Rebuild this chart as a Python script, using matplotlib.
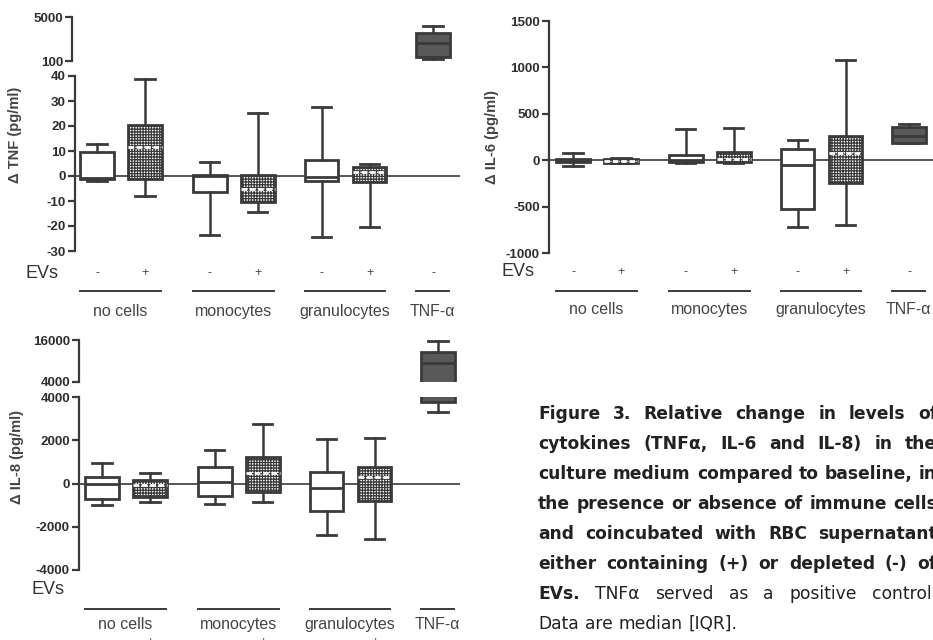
import matplotlib
matplotlib.use("Agg")
import matplotlib.pyplot as plt
from matplotlib import transforms

# ---- data ----
groups = ["no cells", "monocytes", "granulocytes", "TNF-\u03b1"]
group_members = [[0, 1], [2, 3], [4, 5], [6]]
evs = ["-", "+", "-", "+", "-", "+", "-"]

# TNF (pg/ml): whisker low, Q1, median, Q3, whisker high
tnf_lo = [-2, -8, -23.5, -14.5, -24.5, -20.5, 320]
tnf_q1 = [-1, -1.2, -6.5, -10.5, -1.8, -2.5, 576]
tnf_med = [-0.6, 11.5, 0, -5.2, -0.5, 1.8, 2060]
tnf_q3 = [9.6, 20.5, 0.3, 0.3, 6.3, 3.5, 3270]
tnf_hi = [13, 39, 5.5, 25.3, 27.5, 4.8, 3970]

# IL-6 (pg/ml)
il6_lo = [-60, -30, -25, -25, -725, -700, 180]
il6_q1 = [-20, -25, -20, -20, -530, -245, 185]
il6_med = [-5, -10, 5, 10, -55, 75, 260]
il6_q3 = [10, 15, 60, 85, 125, 260, 355]
il6_hi = [75, 20, 340, 350, 215, 1080, 385]

# IL-8 (pg/ml)
il8_lo = [-1000, -870, -960, -860, -2370, -2550, 3300]
il8_q1 = [-700, -640, -600, -400, -1250, -800, 3750]
il8_med = [0, -50, 80, 500, -200, 300, 9400]
il8_q3 = [280, 140, 740, 1210, 540, 740, 12700]
il8_hi = [950, 480, 1570, 2740, 2060, 2100, 15800]

caption = [
    [("Figure 3. Relative change in levels of", "bold")],
    [("cytokines (TNF\u03b1, IL-6 and IL-8) in the", "bold")],
    [("culture medium compared to baseline, in", "bold")],
    [("the presence or absence of immune cells", "bold")],
    [("and coincubated with RBC supernatant", "bold")],
    [("either containing (+) or depleted (-) of", "bold")],
    [("EVs.", "bold"), ("TNF\u03b1 served as a positive control.", "normal")],
    [("Data are median [IQR].", "normal")],
]

# ---- layout ----
W, H = 933, 640
positions = [0, 1, 2.35, 3.35, 4.68, 5.68, 7.0]
UNIT = 48.0  # px per position unit
DARK = "#3a3a3a"

plt.rcParams["font.family"] = ["Liberation Sans", "DejaVu Sans"]
plt.rcParams["axes.unicode_minus"] = False
plt.rcParams["hatch.color"] = DARK
plt.rcParams["hatch.linewidth"] = 0.9

fig = plt.figure(figsize=(W / 100, H / 100), dpi=100)


def px_axes(left, top, right, bottom):
    return fig.add_axes([left / W, 1 - bottom / H, (right - left) / W, (bottom - top) / H])


def style_axis(ax, ylim, ticks, x0, left, right):
    ax.set_xlim((left - x0) / UNIT, (right - x0) / UNIT)
    ax.set_ylim(ylim)
    for s in ("top", "right", "bottom"):
        ax.spines[s].set_visible(False)
    ax.spines["left"].set_linewidth(1.6)
    ax.spines["left"].set_color(DARK)
    ax.set_xticks([])
    ax.set_yticks(ticks)
    ax.tick_params(axis="y", length=5, width=1.6, color=DARK, pad=1.5,
                   labelsize=9.6, labelcolor="#2e2e2e")
    for lab in ax.get_yticklabels():
        lab.set_fontweight("bold")
    ax.patch.set_visible(False)


def draw_boxes(ax, lo, q1, med, q3, hi):
    stats = [dict(whislo=a, q1=b, med=c, q3=d, whishi=e, fliers=[])
             for a, b, c, d, e in zip(lo, q1, med, q3, hi)]
    art = ax.bxp(stats, positions=positions, widths=0.7, capwidths=0.4,
                 patch_artist=True, showfliers=False, manage_ticks=False,
                 boxprops=dict(linewidth=2.0, edgecolor=DARK),
                 whiskerprops=dict(linewidth=1.8, color=DARK),
                 capprops=dict(linewidth=2.0, color=DARK),
                 medianprops=dict(linewidth=2.0, color=DARK))
    for i, (box, m) in enumerate(zip(art["boxes"], art["medians"])):
        if i == 6:
            box.set_facecolor("#595959")
        elif evs[i] == "+":
            box.set_facecolor("white")
            box.set_hatch("++++++")
            m.set_color("white")
            m.set_linestyle((0, (2, 1)))
        else:
            box.set_facecolor("white")


def panel_text(ax, ylabel, ylab_xy, evs_xy, sign_y, line_y, label_y):
    tr = transforms.blended_transform_factory(ax.transData, fig.transFigure)
    fig.text(ylab_xy[0] / W, 1 - ylab_xy[1] / H, ylabel, rotation=90, ha="center",
             va="center", fontsize=10.5, fontweight="bold", color="#444")
    fig.text(evs_xy[0] / W, 1 - evs_xy[1] / H, "EVs", ha="center", va="center",
             fontsize=13, color="#333")
    for p, s in zip(positions, evs):
        ax.text(p, 1 - sign_y / H, s, transform=tr, ha="center", va="center",
                fontsize=9, color="#444")
    for g, members in zip(groups, group_members):
        a = positions[members[0]] - 0.35
        b = positions[members[-1]] + 0.33
        ax.plot([a, b], [1 - line_y / H] * 2, transform=tr, color=DARK,
                lw=1.4, clip_on=False)
        ax.text((a + b) / 2, 1 - label_y / H, g, transform=tr, ha="center",
                va="baseline", fontsize=11.5, color="#444")


# ---- TNF panel (broken axis) ----
ax_t = px_axes(72, 17, 460, 61)
style_axis(ax_t, (100, 5000), [100, 5000], 97, 72, 460)
draw_boxes(ax_t, tnf_lo, tnf_q1, tnf_med, tnf_q3, tnf_hi)
ax_b = px_axes(75, 76, 460, 251)
style_axis(ax_b, (-30, 40), range(-30, 41, 10), 97, 75, 460)
ax_b.axhline(0, color=DARK, lw=1.2, zorder=0.5)
draw_boxes(ax_b, tnf_lo, tnf_q1, tnf_med, tnf_q3, tnf_hi)
panel_text(ax_b, "\u0394 TNF (pg/ml)", (15, 135), (42, 273), 273, 291, 316)

# ---- IL-6 panel ----
ax6 = px_axes(549, 21, 933, 253)
style_axis(ax6, (-1000, 1500), range(-1000, 1501, 500), 573, 549, 933)
ax6.axhline(0, color=DARK, lw=1.2, zorder=0.5)
draw_boxes(ax6, il6_lo, il6_q1, il6_med, il6_q3, il6_hi)
panel_text(ax6, "\u0394 IL-6 (pg/ml)", (492, 137), (518, 272), 272, 291, 314)

# ---- IL-8 panel (broken axis) ----
ax8t = px_axes(79, 340, 460, 382)
style_axis(ax8t, (4000, 16000), [4000, 16000], 102, 79, 460)
draw_boxes(ax8t, il8_lo, il8_q1, il8_med, il8_q3, il8_hi)
ax8 = px_axes(79, 397, 460, 570)
style_axis(ax8, (-4000, 4000), range(-4000, 4001, 2000), 102, 79, 460)
ax8.axhline(0, color=DARK, lw=1.2, zorder=0.5)
draw_boxes(ax8, il8_lo, il8_q1, il8_med, il8_q3, il8_hi)
panel_text(ax8, "\u0394 IL-8 (pg/ml)", (17, 457), (48, 589), 642, 609, 629)

# ---- caption, justified ----
renderer = fig.canvas.get_renderer()
CAP_LEFT, CAP_RIGHT = 538, 937
for k, segs in enumerate(caption):
    y = 419 + 30 * k
    words = [(w, wt) for text, wt in segs for w in text.split()]
    arts = [fig.text(0, 1 - y / H, w, fontsize=12.3, fontweight=wt,
                     family="DejaVu Sans", color="#222", va="baseline")
            for w, wt in words]
    widths = [a.get_window_extent(renderer).width for a in arts]
    if k < len(caption) - 1:
        gap = (CAP_RIGHT - CAP_LEFT - sum(widths)) / (len(words) - 1)
    else:
        gap = 6
    x = CAP_LEFT
    for a, w in zip(arts, widths):
        a.set_x(x / W)
        x += w + gap

fig.savefig("out.png", dpi=100)
